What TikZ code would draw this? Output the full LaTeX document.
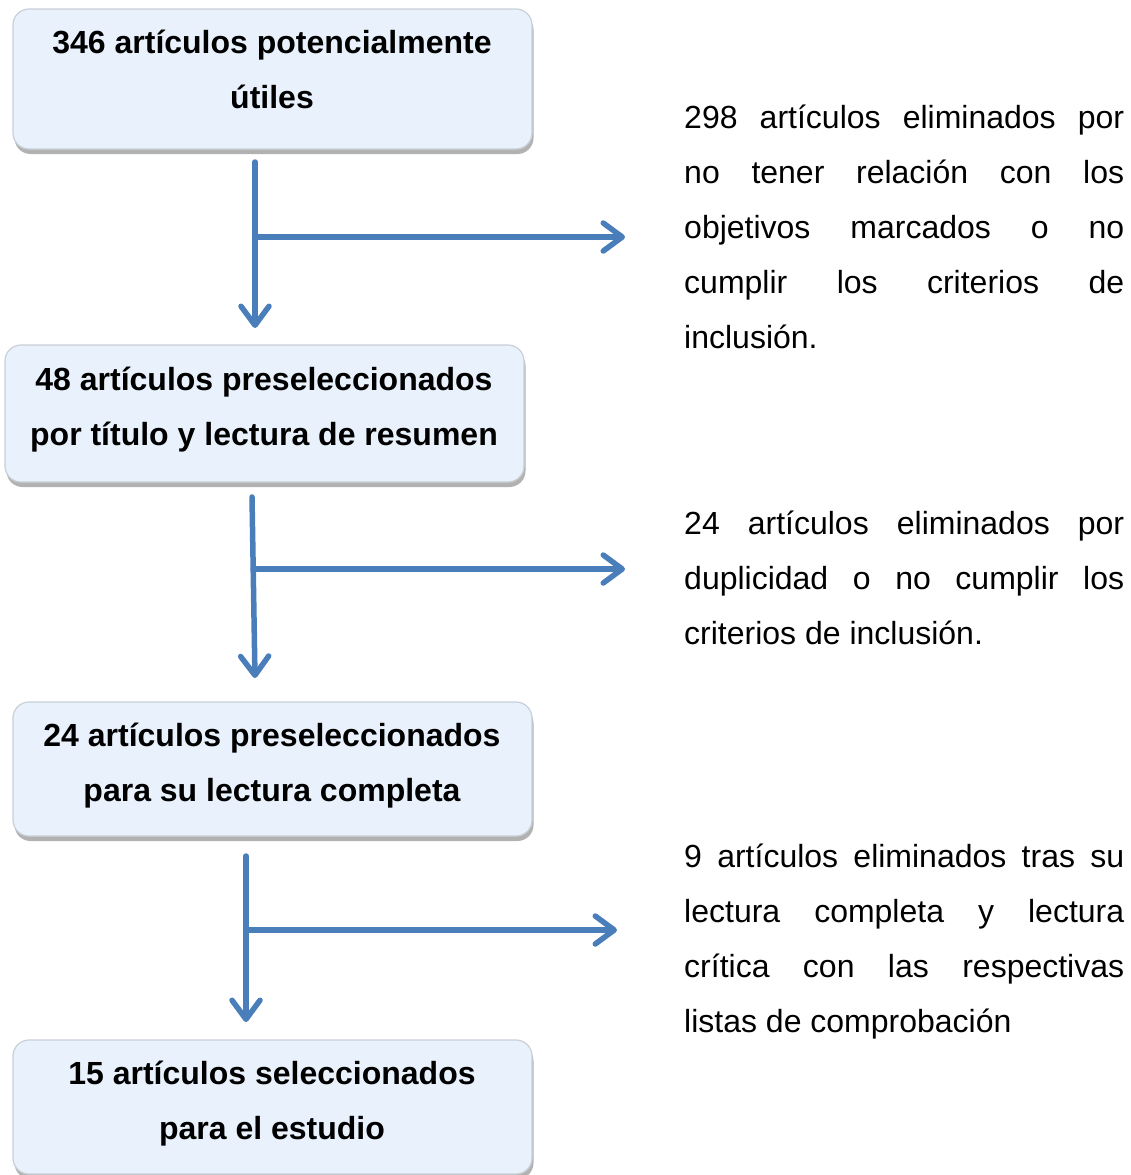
\documentclass[tikz,border=0pt]{standalone}
\usepackage{fontspec}
\setmainfont{Liberation Sans}
\usetikzlibrary{arrows.meta,shadows}
\definecolor{boxfill}{HTML}{E8F1FC}
\definecolor{boxline}{HTML}{C9D0D8}
\definecolor{arrowblue}{HTML}{4A7EBB}
\tikzset{
  x=1pt, y=-1pt,
  flowbox/.style={draw=boxline, line width=1.2pt, fill=boxfill, rounded corners=16pt,
    minimum width=519pt, minimum height=140pt, inner sep=0pt,
    drop shadow={shadow xshift=1.5pt, shadow yshift=-5pt, opacity=0.5, fill=black!60}},
  boxtext/.style={align=center, font=\fontsize{32}{55}\selectfont\bfseries, inner sep=0pt},
  sidetext/.style={anchor=north west, align=left, inner sep=0pt, font=\fontsize{32}{55}\selectfont},
  flowarrow/.style={draw=arrowblue, line width=5.5pt, line cap=round,
    -{Straight Barb[length=19pt,width=28pt,line width=5.5pt,round]}},
}
\newcommand{\jline}[1]{\makebox[440pt][s]{#1}}
\begin{document}
\begin{tikzpicture}
\useasboundingbox (0,0) rectangle (1131,1175);
% boxes
\node[flowbox] (b1) at (272.5,79) {};
\node[boxtext] (t1) at (272,69.5) {346 artículos potencialmente\\útiles};
\node[flowbox, minimum height=137pt] (b2) at (264.5,413.5) {};
\node[boxtext] (t2) at (264,409.5) {48 artículos preseleccionados\\por título y lectura de resumen};
\node[flowbox, minimum height=134pt] (b3) at (272.5,769) {};
\node[boxtext] (t3) at (272,765.5) {24 artículos preseleccionados\\para su lectura completa};
\node[flowbox, minimum height=134pt] (b4) at (272.5,1107) {};
\node[boxtext] (t4) at (272,1103.5) {15 artículos seleccionados\\para el estudio};
% side texts
\node[sidetext] (s1) at (684,105) {\jline{298 artículos eliminados por}\\\jline{no tener relación con los}\\\jline{objetivos marcados o no}\\\jline{cumplir los criterios de}\\inclusión.};
\node[sidetext] (s2) at (684,511) {\jline{24 artículos eliminados por}\\\jline{duplicidad o no cumplir los}\\criterios de inclusión.};
\node[sidetext] (s3) at (684,844) {\jline{9 artículos eliminados tras su}\\\jline{lectura completa y lectura}\\\jline{crítica con las respectivas}\\listas de comprobación};
% connector coordinates
\coordinate (a1s) at (255,162);
\coordinate (a1e) at (255,328);
\coordinate (a1b) at (255,237);
\coordinate (a1r) at (625,237);
\coordinate (a2s) at (252,497);
\coordinate (a2e) at (255,678);
\coordinate (a2b) at (253.3,569);
\coordinate (a2r) at (625,569);
\coordinate (a3s) at (246,856);
\coordinate (a3e) at (246,1022);
\coordinate (a3b) at (246,930);
\coordinate (a3r) at (617,930);
% arrows
\draw[flowarrow] (a1s) -- (a1e);
\draw[flowarrow] (a1b) -- (a1r);
\draw[flowarrow] (a2s) -- (a2e);
\draw[flowarrow] (a2b) -- (a2r);
\draw[flowarrow] (a3s) -- (a3e);
\draw[flowarrow] (a3b) -- (a3r);
\end{tikzpicture}
\end{document}
